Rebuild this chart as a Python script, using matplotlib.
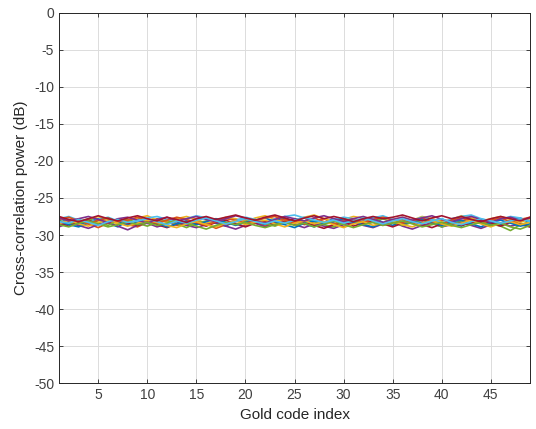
import numpy as np
import matplotlib
matplotlib.use("Agg")
import matplotlib.pyplot as plt

plt.rcParams['font.family'] = ['Liberation Sans', 'DejaVu Sans']

gold_index = list(range(1, 50))

s1 = [-28.3,-27.9,-28.6,-28.2,-27.8,-28.4,-28.9,
      -28.1,-27.7,-28.3,-28.5,-27.9,-28.2,-28.7,
      -28.0,-27.6,-28.4,-28.8,-28.1,-27.9,-28.3,
      -28.6,-28.0,-27.7,-28.2,-28.5,-28.9,-28.3,
      -27.8,-28.1,-28.4,-28.0,-27.6,-28.3,-28.7,
      -28.2,-27.9,-28.4,-28.1,-27.8,-28.5,-28.8,
      -28.2,-27.9,-28.3,-28.6,-28.0,-27.7,-28.4]
s2 = [-28.7,-28.2,-27.9,-28.5,-29.0,-28.4,-28.1,
      -28.6,-28.9,-28.3,-27.8,-28.2,-28.7,-28.4,
      -28.0,-28.5,-29.1,-28.6,-28.2,-27.9,-28.4,
      -28.8,-28.3,-27.9,-28.1,-28.6,-28.2,-27.8,
      -28.4,-28.9,-28.5,-28.0,-28.3,-28.7,-28.2,
      -27.9,-28.4,-28.8,-28.3,-28.0,-28.6,-28.1,
      -27.8,-28.3,-28.7,-28.4,-28.0,-28.5,-28.8]
s3 = [-27.6,-28.1,-28.4,-27.9,-27.5,-28.0,-28.5,
      -28.2,-27.7,-27.4,-28.0,-28.3,-27.8,-27.5,
      -27.9,-28.4,-28.1,-27.6,-27.8,-28.2,-27.7,
      -27.4,-27.9,-28.3,-28.0,-27.6,-27.3,-27.8,
      -28.2,-27.9,-27.5,-27.7,-28.1,-28.4,-27.9,
      -27.6,-28.0,-27.5,-27.8,-28.2,-27.9,-27.4,
      -27.7,-28.1,-27.8,-27.5,-27.9,-28.3,-27.8]
s4 = [-28.9,-28.4,-28.7,-29.1,-28.6,-28.3,-28.8,
      -29.3,-28.7,-28.4,-28.9,-28.5,-28.2,-28.7,
      -29.0,-28.6,-28.3,-28.8,-29.2,-28.7,-28.4,
      -28.9,-28.5,-28.2,-28.6,-29.0,-28.5,-28.8,
      -29.1,-28.6,-28.3,-28.7,-29.0,-28.5,-28.2,
      -28.8,-29.2,-28.7,-28.4,-28.9,-28.6,-28.3,
      -28.7,-29.1,-28.6,-28.4,-28.8,-28.5,-28.9]
s5 = [-28.0,-28.5,-28.2,-27.8,-28.3,-28.7,-28.1,
      -27.9,-28.4,-28.8,-28.3,-28.0,-28.5,-29.0,
      -28.4,-28.1,-27.8,-28.3,-28.6,-28.2,-27.9,
      -28.4,-28.8,-28.3,-28.0,-27.7,-28.2,-28.6,
      -28.9,-28.4,-28.1,-28.5,-28.2,-27.8,-28.3,
      -28.7,-28.3,-28.0,-28.4,-28.9,-28.5,-28.1,
      -28.4,-28.0,-28.5,-28.8,-29.4,-28.6,-28.2]
s6 = [-27.8,-27.5,-28.0,-28.3,-27.9,-27.6,-28.1,
      -28.4,-28.0,-27.7,-27.5,-27.9,-28.2,-27.8,
      -27.4,-27.7,-28.1,-28.5,-28.0,-27.6,-27.9,
      -28.3,-27.8,-27.5,-27.3,-27.7,-28.0,-28.4,
      -27.9,-27.6,-27.8,-28.2,-27.7,-27.4,-27.9,
      -28.3,-28.0,-27.6,-27.9,-28.4,-27.8,-27.5,
      -27.3,-27.8,-28.2,-27.9,-27.5,-27.7,-28.1]
s7 = [-28.5,-28.8,-28.3,-28.0,-28.6,-28.2,-27.9,
      -28.4,-28.7,-28.2,-28.6,-29.0,-28.5,-28.1,
      -28.4,-28.8,-28.3,-28.0,-28.5,-28.9,-28.4,
      -28.1,-28.6,-28.2,-27.8,-28.3,-28.7,-29.1,
      -28.6,-28.2,-28.8,-28.4,-28.0,-28.5,-28.9,
      -28.4,-28.1,-28.6,-29.0,-28.5,-28.2,-28.7,
      -28.3,-28.0,-28.4,-28.8,-28.3,-28.6,-28.9]
s8 = [-28.1,-28.6,-28.9,-28.4,-28.0,-27.7,-28.2,
      -28.7,-28.3,-28.0,-28.4,-28.9,-28.5,-28.1,
      -28.6,-28.2,-27.8,-28.3,-28.7,-28.3,-28.0,
      -27.7,-28.2,-28.6,-29.0,-28.4,-28.1,-28.5,
      -28.2,-27.8,-28.3,-28.6,-28.9,-28.4,-28.0,
      -28.5,-28.2,-27.9,-28.3,-28.7,-28.2,-28.0,
      -28.5,-28.9,-28.3,-28.0,-28.4,-28.8,-28.5]
s9 = [-27.9,-27.6,-28.1,-28.5,-28.0,-27.7,-28.2,
      -28.0,-27.6,-28.1,-28.4,-28.0,-27.6,-27.9,
      -28.3,-28.7,-28.2,-27.8,-28.0,-28.4,-28.1,
      -27.7,-27.5,-28.0,-28.4,-28.1,-27.7,-28.2,
      -28.5,-28.1,-27.8,-28.3,-27.9,-27.6,-28.0,
      -28.4,-28.1,-27.7,-28.2,-28.5,-28.0,-27.7,
      -28.1,-28.4,-28.0,-27.7,-28.2,-27.9,-27.6]
s10 = [-28.4,-28.0,-28.5,-28.8,-28.3,-27.9,-28.4,
       -28.8,-28.4,-28.0,-28.3,-28.7,-29.0,-28.5,
       -28.2,-28.6,-28.9,-28.4,-28.1,-28.6,-28.3,
       -28.0,-28.5,-28.9,-28.4,-28.1,-28.5,-28.2,
       -28.6,-29.0,-28.5,-28.2,-28.7,-28.4,-28.1,
       -28.6,-28.9,-28.4,-28.1,-28.5,-28.8,-28.4,
       -28.0,-28.5,-28.9,-28.4,-28.2,-28.6,-28.3]
s11 = [-27.7,-28.1,-27.8,-27.5,-27.9,-28.3,-27.8,
       -27.6,-28.0,-28.4,-27.9,-27.6,-28.1,-27.8,
       -27.5,-27.9,-28.2,-27.8,-27.4,-27.7,-28.1,
       -28.4,-27.9,-27.5,-27.8,-28.1,-27.7,-27.4,
       -27.8,-28.2,-27.8,-27.5,-27.9,-28.3,-27.9,
       -27.6,-28.0,-27.7,-27.4,-27.9,-28.2,-27.8,
       -27.5,-27.9,-28.3,-27.8,-27.6,-28.0,-27.7]
s12 = [-28.6,-28.9,-28.4,-28.1,-28.5,-28.9,-28.6,
       -28.2,-28.6,-28.3,-28.7,-28.4,-28.0,-28.4,
       -28.8,-29.2,-28.7,-28.3,-28.6,-28.3,-28.7,
       -29.0,-28.6,-28.3,-28.7,-28.4,-28.9,-28.5,
       -28.1,-28.6,-29.0,-28.6,-28.3,-28.7,-28.4,
       -28.1,-28.5,-28.9,-28.6,-28.3,-28.7,-29.0,
       -28.6,-28.3,-28.7,-28.4,-28.9,-29.2,-28.7]
s13 = [-28.2,-28.4,-27.9,-28.3,-28.7,-28.2,-27.9,
       -28.3,-28.1,-27.8,-28.2,-28.6,-28.1,-28.4,
       -28.0,-27.7,-28.1,-28.5,-28.2,-27.8,-28.2,
       -28.5,-28.1,-28.4,-28.0,-27.6,-28.0,-28.3,
       -28.0,-28.4,-28.1,-27.7,-28.1,-28.5,-28.1,
       -27.8,-28.2,-28.5,-28.1,-27.8,-28.3,-28.6,
       -28.2,-27.8,-28.1,-28.4,-28.1,-27.8,-28.2]
s14 = [-27.5,-27.9,-28.2,-27.8,-27.4,-27.8,-28.1,
       -27.7,-27.4,-27.8,-28.1,-27.6,-27.9,-28.3,
       -27.8,-27.5,-27.9,-27.6,-27.3,-27.7,-28.0,
       -27.6,-27.3,-27.7,-28.1,-27.7,-27.4,-27.8,
       -27.5,-27.8,-28.2,-27.8,-27.5,-27.8,-27.6,
       -27.3,-27.7,-28.1,-27.7,-27.4,-27.8,-27.5,
       -27.9,-28.2,-27.8,-27.5,-27.8,-28.1,-27.6]

series = [s1, s2, s3, s4, s5, s6, s7, s8, s9, s10, s11, s12, s13, s14]

matlab_colors = ['#0072BD', '#D95319', '#EDB120', '#7E2F8E',
                 '#77AC30', '#4DBEEE', '#A2142F']

xticks = [5, 10, 15, 20, 25, 30, 35, 40, 45]
yticks = [0, -5, -10, -15, -20, -25, -30, -35, -40, -45, -50]

fig = plt.figure(figsize=(5.36, 4.29), dpi=100)
ax = fig.add_axes([0.110, 0.107, 0.879, 0.863])

for i, s in enumerate(series):
    ax.plot(gold_index[:len(s)], s, color=matlab_colors[i % 7], lw=1.2)

ax.set_xlim(1, 49)
ax.set_ylim(-50, 0)
ax.set_xticks(xticks)
ax.set_yticks(yticks)
ax.set_yticklabels([str(t) for t in yticks])
ax.grid(True, color='#dcdcdc', lw=0.7)
ax.set_axisbelow(True)
ax.tick_params(direction='in', length=3, top=True, right=True,
               labelsize=10, colors='#262626', labelcolor='#404040', width=0.6)
for sp in ax.spines.values():
    sp.set_color('#262626')
    sp.set_linewidth(0.7)
ax.set_xlabel('Gold code index', fontsize=11, color='#262626')
ax.set_ylabel('Cross-correlation power (dB)', fontsize=11, color='#262626')

fig.savefig('out.png', dpi=100)
